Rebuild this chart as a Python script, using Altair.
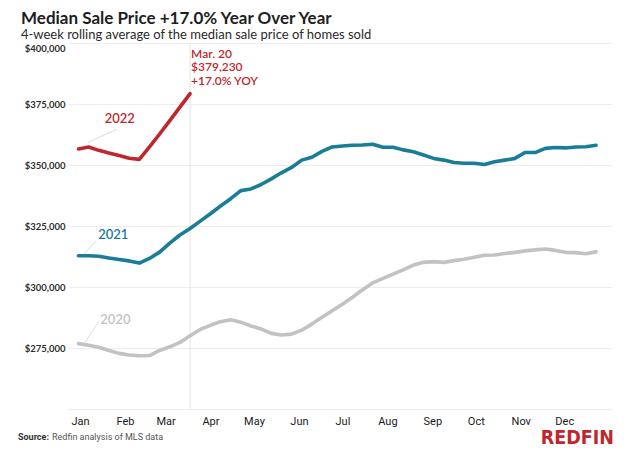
import altair as alt
import pandas as pd

# ---------------- data ----------------
# week index 0..51 -> day of year (weekly 4-week rolling averages)
week_day_full = [1 + 7 * k for k in range(52)]
week_day_2022 = [1 + 7 * k for k in range(12)]

price_2020 = [276800, 276100, 275300, 274000, 272800, 272100, 271800, 271900, 274000, 275500,
              277300, 280000, 282600, 284300, 285800, 286600, 285600, 284000, 282800, 281000,
              280300, 280700, 282300, 284800, 287600, 290300, 292900, 295800, 298900, 301700,
              303500, 305300, 307000, 309000, 310100, 310400, 310100, 310800, 311400, 312200,
              313000, 313100, 313700, 314200, 314800, 315200, 315600, 315000, 314200, 314100,
              313600, 314400]
price_2021 = [312800, 312800, 312600, 311900, 311300, 310700, 309800, 311700, 314300, 318000,
              321300, 324000, 327000, 330000, 333200, 336200, 339500, 340200, 342000, 344300,
              346800, 349000, 352000, 353200, 355600, 357400, 357800, 358100, 358200, 358500,
              357300, 357300, 356200, 355400, 354100, 352700, 352000, 351000, 350700, 350700,
              350200, 351300, 352000, 352700, 355100, 355100, 356800, 357200, 357000, 357400,
              357500, 358100]
price_2022 = [356600, 357400, 356000, 354900, 353900, 352800, 352300, 357400, 362700, 368200,
              373700, 379230]

years = ["2020", "2021", "2022"]
year_colors = ["#c2c2c2", "#1a7d98", "#c0272d"]

month_names = ["Jan", "Feb", "Mar", "Apr", "May", "Jun", "Jul", "Aug", "Sep", "Oct", "Nov", "Dec"]
month_start_day = [0, 31, 59, 90, 120, 151, 181, 212, 243, 273, 304, 334]
y_ticks = [250000, 275000, 300000, 325000, 350000, 375000, 400000]

# label positions (day, price) and leader lines
label_day = [26.5, 25.0, 29.5]
label_price = [286300, 321300, 368800]
leader_day1 = [5.5, 4.1, 7.4]
leader_day2 = [15.0, 13.6, 27.2]
leader_p1 = [277300, 313200, 359200]
leader_p2 = [286000, 319000, 364600]

latest_day = 78
latest_text = "Mar. 20\n$379,230\n+17.0% YOY"

# ---------------- tables ----------------
rows = []
for d, v in zip(week_day_full, price_2020):
    rows.append({"day": d, "price": v, "year": "2020"})
for d, v in zip(week_day_full, price_2021):
    rows.append({"day": d, "price": v, "year": "2021"})
for d, v in zip(week_day_2022, price_2022):
    rows.append({"day": d, "price": v, "year": "2022"})
df = pd.DataFrame(rows)

labels_df = pd.DataFrame({"year": years, "day": label_day, "price": label_price})
leaders_df = pd.DataFrame({"year": years, "d1": leader_day1, "d2": leader_day2,
                           "p1": leader_p1, "p2": leader_p2})
latest_df = pd.DataFrame({"day": [latest_day], "price": [393900], "txt": [latest_text]})

x_scale = alt.Scale(domain=[-6.2, 368.3], nice=False, zero=False)
y_scale = alt.Scale(domain=[250000, 400000], nice=False, zero=False)
color_scale = alt.Scale(domain=years, range=year_colors)

label_expr = "[" + ",".join("'" + m + "'" for m in month_names) + "][indexof([" + \
    ",".join(str(d) for d in month_start_day) + "], datum.value)]"

x_enc = alt.X("day:Q", scale=x_scale, title=None,
              axis=alt.Axis(values=month_start_day, labelExpr=label_expr, grid=False,
                            domain=False, ticks=False, labelPadding=6, labelOffset=3,
                            labelFont="Roboto", labelFontSize=11, labelColor="#1a1a1a"))
y_enc = alt.Y("price:Q", scale=y_scale, title=None,
              axis=alt.Axis(values=y_ticks,
                            labelExpr="datum.value == 250000 ? '' : format(datum.value, '$,.0f')",
                            grid=True, gridColor="#ededed", domain=False, ticks=False,
                            labelPadding=3, labelFlush=True, labelFont="Lato",
                            labelFontWeight="bold", labelFontSize=9.5, labelColor="#2e2e2e"))

vrule = alt.Chart(latest_df).mark_rule(color="#e4e4e4", strokeWidth=1).encode(
    x=alt.X("day:Q", scale=x_scale))

leaders = alt.Chart(leaders_df).mark_rule(color="#dcdcdc", strokeWidth=1).encode(
    x=alt.X("d1:Q", scale=x_scale), x2="d2:Q",
    y=alt.Y("p1:Q", scale=y_scale), y2="p2:Q")

lines = alt.Chart(df).mark_line(strokeWidth=3.6, strokeCap="round", strokeJoin="round").encode(
    x=x_enc, y=y_enc,
    color=alt.Color("year:N", scale=color_scale, legend=None),
    detail="year:N")

year_labels = alt.Chart(labels_df).mark_text(font="Lato", fontSize=13, fontWeight=600).encode(
    x=alt.X("day:Q", scale=x_scale), y=alt.Y("price:Q", scale=y_scale),
    text="year:N",
    color=alt.Color("year:N", scale=color_scale, legend=None))

latest_label = alt.Chart(latest_df).mark_text(
    font="Lato", fontSize=12, fontWeight=600, color="#c0272d", align="left",
    baseline="alphabetic", lineBreak="\n", lineHeight=13.5, dx=1).encode(
    x=alt.X("day:Q", scale=x_scale), y=alt.Y("price:Q", scale=y_scale), text="txt:N")

source_bold = alt.Chart(latest_df).mark_text(
    font="Roboto", fontSize=9, fontWeight="bold", color="#333333", align="left",
    baseline="middle", text="Source:").encode(x=alt.value(-50), y=alt.value(394))
source_rest = alt.Chart(latest_df).mark_text(
    font="Roboto", fontSize=9, color="#555555", align="left",
    baseline="middle", text="Redfin analysis of MLS data").encode(x=alt.value(-16), y=alt.value(394))
brand = alt.Chart(latest_df).mark_text(
    font="'Liberation Sans Narrow', 'DejaVu Sans Condensed', sans-serif", fontSize=19.5,
    fontWeight="bold", color="#c0272d", align="right", baseline="alphabetic",
    text="REDFIN").encode(x=alt.value(546), y=alt.value(401))

chart = alt.layer(vrule, leaders, lines, year_labels, latest_label,
                  source_bold, source_rest, brand).properties(
    width=543, height=366, autosize="none",
    padding={"left": 60, "top": 35, "right": 11, "bottom": 39},
    title=alt.TitleParams(
        "Median Sale Price +17.0% Year Over Year",
        subtitle="4-week rolling average of the median sale price of homes sold",
        anchor="start", frame="group", dx=-47, offset=0,
        font="Lato", fontSize=17, fontWeight="bold", color="#1e1e1e",
        subtitleFont="Lato", subtitleFontSize=13, subtitleColor="#2a2a2a",
        subtitlePadding=1)
).configure_view(stroke=None)

chart.save("out.html", embed_options={"renderer": "svg", "actions": False})
